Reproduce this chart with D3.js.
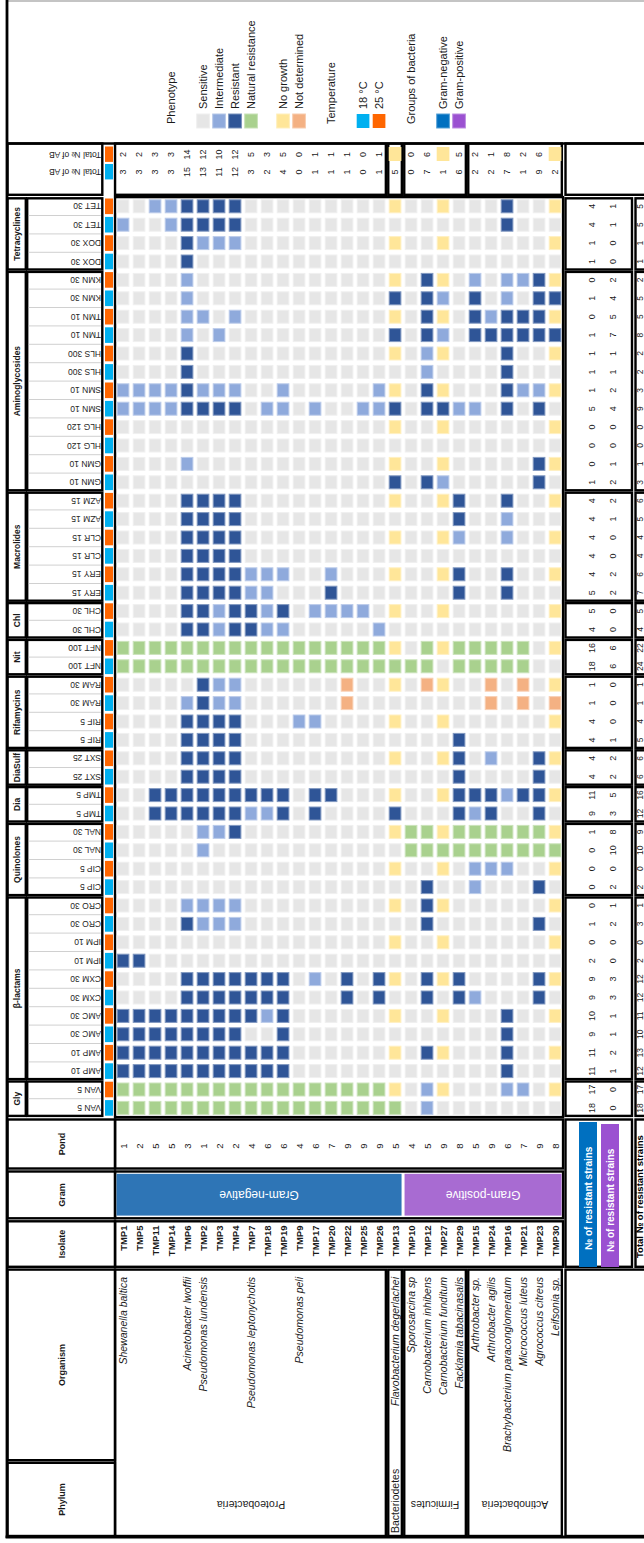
<!DOCTYPE html>
<html>
<head>
<meta charset="utf-8">
<script src="https://cdn.jsdelivr.net/npm/d3@7/dist/d3.min.js"></script>
<style>
html,body{margin:0;padding:0;background:#fff;}
svg{display:block;}
text{font-family:"Liberation Sans",Arial,sans-serif;}
</style>
</head>
<body>
<svg id="chart" width="644" height="1543"></svg>
<script>
// ---------------- DATA ----------------
const isolates = ["TMP1","TMP5","TMP11","TMP14","TMP6","TMP2","TMP3","TMP4","TMP7","TMP18","TMP19","TMP9","TMP17","TMP20","TMP22","TMP25","TMP26","TMP13","TMP10","TMP12","TMP27","TMP29","TMP15","TMP24","TMP16","TMP21","TMP23","TMP30"];
const ponds = [1,2,5,5,3,1,2,2,4,6,6,4,6,7,9,9,9,5,4,5,9,8,5,9,6,7,9,8];
const organisms = ["Shewanella baltica","","","","Acinetobacter lwoffii","Pseudomonas lundensis","","","Pseudomonas leptonychotis","","","Pseudomonas peli","","","","","","Flavobacterium degerlachei","Sporosarcina sp","Carnobacterium inhibens","Carnobacterium funditum","Facklamia tabacinasalis","Arthrobacter sp.","Arthrobacter agilis","Brachybacterium paraconglomeratum","Micrococcus luteus","Agrococcus citreus","Leifsonia sp."];
const phyla = ["Proteobacteria","Bacteriodetes","Firmicutes","Actinobacteria"];
const phylumSizes = [17,1,4,6];
const gramGroups = ["Gram-negative","Gram-positive"];
const gramSizes = [18,10];
const antibiotics = ["TET 30","DOX 30","KMN 30","TMN 10","HLS 300","SMN 10","HLG 120","GMN 10","AZM 15","CLR 15","ERY 15","CHL 30","NFT 100","RAM 30","RIF 5","SXT 25","TMP 5","NAL 30","CIP 5","CRO 30","IPM 10","CXM 30","AMC 30","AMP 10","VAN 5"];
const abClasses = ["Tetracyclines","Aminoglycosides","Macrolides","Chl","Nit","Rifamycins","DiaSulf","Dia","Quinolones","β-lactams","Gly"];
const classSizes = [2,6,3,1,1,2,1,1,2,5,1];
const temperatures = ["25 °C","18 °C"];          // row order inside each antibiotic (top, bottom)
const legendTemperatures = ["18 °C","25 °C"];    // legend order
const phenoCodes = ["S","I","R","N","G","D"];
const phenoLabels = ["Sensitive","Intermediate","Resistant","Natural resistance","No growth","Not determined"];
// one string per antibiotic/temperature row, one letter per isolate
const phenotypeRows = [
"SSIIRRR RSSSSSS SSSGSSG SSSRSSG",
"ISSIRRR RSSSSSS SSSSSSS SSSRSSS",
"SSSSRII ISSSSSS SSSGSSG SSSSSSG",
"SSSSRSS SSSSSSS SSSSSSS SSSSSSS",
"SSSSISS SSSSSSS SSSGSRG SISIIRG",
"SSSSISS SSSSSSS SSSRSRI SRSISRR",
"SSSSIIS ISSSSSS SSSGSRG SRIRRRG",
"SSSSISI SSSSSSS SSSRSRI SRRRRRR",
"SSSSRSS SSSSSSS SSSGSIG SSSRSSG",
"SSSSRSS SSSSSSS SSSSSIS SSSRSSS",
"IIIIRII ISSISSS SSIGSRG SSSRIIG",
"IIIIRRR RSIISIS SIIRSRR IISRSRS",
"SSSSSSS SSSSSSS SSSGSSG SSSSSSG",
"SSSSSSS SSSSSSS SSSSSSS SSSSSSS",
"SSSSISS SSSSSSS SSSGSSG SSSSSRG",
"SSSSSSS SSSSSSS SSSRSRI SSSSSRS",
"SSSSRRR RSSSSSS SSSGSSG RSSRSSG",
"SSSSRRR RSSSSSS SSSSSSS RSSISSS",
"SSSSRRR RSSSSSS SSSGSSG ISSISSG",
"SSSSRRR RSSSSSS SSSSSSS SSSSSSS",
"SSSSRRR RIIISSI SSSGSSG RSSRSSG",
"SSSSRRR RIISSSR SSSSSSS RSSRSSS",
"SSSSRRI RRIRSII IISGSSG SSSSSSG",
"SSSSRRI RRIISSS SSISSSS SSSSSSS",
"NNNNNNN NNNNNNN NNNGSNG NNNNNSG",
"NNNNNNN NNNNNNN NNNNNNS NNNNNSS",
"SSSSSRI ISSSSSS DSSGSDG SSDSDSG",
"SSSSIRI ISSSSSS DSSSSSS SSDSDSD",
"SSSSRRR RSSSIIS SSSGSSG SSSSSSG",
"SSSSRRR RSSSSSS SSSSSSS RSSSSSS",
"SSSSRRR RSSSSSS SSSGSSG RSISSRG",
"SSSSRRR RSSSSSS SSSSSSS RSSSSRS",
"SSRRRRR RRRRSRR SSSGSSG RRRIRRG",
"SSRRRRR RIIRSRS SSSRSSS RIRSSRS",
"SSSSSII RSSSSSS SSSGNNG NNNNNNG",
"SSSSSIS SSSSSSS SSSSNNN NNNNNNN",
"SSSSSSS SSSSSSS SSSGSSG SIIISSG",
"SSSSSSS SSSSSSS SSSSSRS SISSSRS",
"SSSSIII ISSSSSS SSSGSRG SSSSSSG",
"SSSSRII ISSSSSS SSSSSRS SSSSSRS",
"SSSSSSS SSSSSSS SSSGSSG SSSSSSG",
"RRSSSSS SSSSSSS SSSSSSS SSSSSSS",
"SSSSRRR RRRRSIS RSRGSRG RSSSSRG",
"SSSSRRR RRRRSSS RSRSSRS RISSSRS",
"RRRRRRR RRIRSSS SSSGSSG SSSRSSG",
"RRRRRRR RSSRSSS SSSSSSS SSSRSSS",
"RRRRRRR RRRRSSS SSSGSRG SSSRSSG",
"RRRRRRR RRRRSSS SSSSSSS SSSRSSS",
"NNNNNNN NNNNNNN NNNGSIG SSSIISG",
"NNNNNNN NNNNNNN NNNNSIS SSSSSSS"
];
// Total No of AB per isolate (null = no growth)
const totalAB25 = [2,2,3,3,14,12,10,12,5,3,5,0,1,1,1,0,1,null,0,6,null,5,2,1,8,2,6,null];
const totalAB18 = [3,3,3,3,15,13,11,12,3,2,4,0,1,1,1,0,1,5,0,7,1,6,2,2,7,1,9,2];
// No of resistant strains per row
const resGramNeg = [4,4,1,1,0,1,0,1,1,1,1,5,0,0,0,1,4,4,4,4,4,5,5,4,16,18,1,1,4,4,4,4,11,9,1,0,0,0,0,1,0,2,9,9,10,9,11,11,17,18];
const resGramPos = [1,1,0,0,2,4,5,7,1,1,2,4,0,0,1,2,2,1,0,0,2,2,0,0,6,6,0,0,0,1,2,2,5,3,8,10,0,2,1,2,0,0,3,3,1,1,2,1,0,0];
const resTotal = [5,5,1,1,2,5,5,8,2,2,3,9,0,0,1,3,6,5,4,4,6,7,5,4,22,24,1,1,4,5,6,6,16,12,9,10,0,2,1,3,0,2,12,12,11,10,13,12,17,18];

// ---------------- STYLE ----------------
const phenoColors = ["#e6e6e6","#8faadc","#2f5597","#a9d18e","#ffe699","#f4b183"];
const tempColors = ["#ff6600","#00b0f0"];
const gramBarColors = ["#2e75b6","#a86bd2"];
const gramLegendColors = ["#0070c0","#9b51d1"];

// ---------------- SCALES ----------------
const svg = d3.select("#chart");
const STEP_X = 16, CELL_W = 12.7, X0 = 116.7;
const x = d3.scaleBand().domain(isolates)
  .range([X0, X0 + STEP_X*(isolates.length-1) + CELL_W])
  .paddingInner(1 - CELL_W/STEP_X).paddingOuter(0);
const rowKeys = antibiotics.flatMap(a => temperatures.map(t => a + "|" + t));
const STEP_Y = 18.4, CELL_H = 14, Y0 = 199.3;
const y = d3.scaleBand().domain(rowKeys)
  .range([Y0, Y0 + STEP_Y*(rowKeys.length-1) + CELL_H])
  .paddingInner(1 - CELL_H/STEP_Y).paddingOuter(0);
const color = d3.scaleOrdinal().domain(phenoCodes).range(phenoColors);
const tColor = d3.scaleOrdinal().domain(temperatures).range(tempColors);

const gapX = (x.step()-x.bandwidth())/2, gapY = (y.step()-y.bandwidth())/2;
const cb = c => c < isolates.length ? x(isolates[c]) - gapX : x(isolates[isolates.length-1]) + x.bandwidth() + gapX;
const bnd = i => i < rowKeys.length ? y(rowKeys[i]) - gapY : y(rowKeys[rowKeys.length-1]) + y.bandwidth() + gapY;
const cx = c => x(isolates[c]) + x.bandwidth()/2;
const cy = i => y(rowKeys[i]) + y.bandwidth()/2;

const TH = 2.4;
const gLines = svg.append("g");
const gMarks = svg.append("g");
const gText = svg.append("g");
function box(x0, y0, x1, y1, sw) {
  gLines.append("rect").attr("x", x0).attr("y", y0).attr("width", x1-x0).attr("height", y1-y0)
    .attr("fill","none").attr("stroke","#000").attr("stroke-width", sw || TH);
}
function label(xx, yy, str, o) {
  o = o || {};
  const t = gText.append("text")
    .attr("transform", `translate(${xx},${yy}) rotate(${o.rot === undefined ? -90 : o.rot})`)
    .attr("text-anchor", o.anchor || "middle")
    .attr("dominant-baseline", "central")
    .attr("font-size", o.size || 9)
    .attr("fill", o.fill || "#1a1a1a")
    .text(str);
  if (o.weight) t.attr("font-weight", o.weight);
  if (o.style) t.attr("font-style", o.style);
  if (o.family) t.attr("font-family", o.family);
  return t;
}
function lighter(c, k) { return d3.interpolateRgb(c, "#ffffff")(k); }

const cum = arr => arr.reduce((a, v) => (a.push(a[a.length-1] + v), a), [0]);
const phyStarts = cum(phylumSizes);
const gramStarts = cum(gramSizes);
const classStarts = cum(classSizes.map(v => v*temperatures.length));

const FRAME_L = 7, LAB_X0 = 27.2, LAB_X1 = 102.3, STRIP_X = 105, STRIP_W = 8;
const RB_X0 = 565.5, RB_X1 = 632, TB_X0 = 635.5, FAR = 700;
const TOP_Y0 = 143.5, TOP_Y1 = 194.8;

// ---------------- LEGEND ----------------
gLines.append("line").attr("x1", FRAME_L).attr("x2", 644).attr("y1", 1).attr("y2", 1)
  .attr("stroke", "#b0b0b0").attr("stroke-width", 1.6);
const LEG_SQ_Y = 114, LEG_LAB_Y = 109, LEG_HEAD_Y = 124;
const legendPhenoCols = [5,6,7,8,10,11];
label(cx(3), LEG_HEAD_Y, "Phenotype", {anchor:"start", size:11});
phenoLabels.forEach((lab, k) => {
  const c = legendPhenoCols[k];
  gMarks.append("rect").attr("x", x(isolates[c])).attr("y", LEG_SQ_Y)
    .attr("width", x.bandwidth()).attr("height", y.bandwidth()).attr("fill", phenoColors[k])
    .attr("stroke", lighter(phenoColors[k], 0.35)).attr("stroke-width", 1);
  label(cx(c), LEG_LAB_Y, lab, {anchor:"start", size:11});
});
label(cx(13), LEG_HEAD_Y, "Temperature", {anchor:"start", size:11});
legendTemperatures.forEach((t, k) => {
  const c = 15 + k;
  gMarks.append("rect").attr("x", x(isolates[c])).attr("y", LEG_SQ_Y)
    .attr("width", x.bandwidth()).attr("height", y.bandwidth()).attr("fill", tColor(t));
  label(cx(c), LEG_LAB_Y, t, {anchor:"start", size:11});
});
label(cx(18), LEG_HEAD_Y, "Groups of bacteria", {anchor:"start", size:11});
gramGroups.forEach((g, k) => {
  const c = 20 + k;
  gMarks.append("rect").attr("x", x(isolates[c])).attr("y", LEG_SQ_Y)
    .attr("width", x.bandwidth()).attr("height", y.bandwidth()).attr("fill", gramLegendColors[k])
    .attr("stroke", lighter(gramLegendColors[k], 0.35)).attr("stroke-width", 1);
  label(cx(c), LEG_LAB_Y, g, {anchor:"start", size:11});
});

// ---------------- TOTAL No OF AB (top) ----------------
const topRowY = [154.5, 172];
box(FRAME_L + 0.5, TOP_Y0, LAB_X1, TOP_Y1);
temperatures.forEach((t, k) => {
  gMarks.append("rect").attr("x", STRIP_X).attr("y", topRowY[k] - 8).attr("width", STRIP_W)
    .attr("height", 15.4).attr("fill", tColor(t));
  label(LAB_X1 - 1.2, topRowY[k], "Total № of AB", {rot:180, anchor:"start", size:8.5});
});
phyla.forEach((p, k) => {
  const a = phyStarts[k], b = phyStarts[k+1];
  box(cb(a) + (k ? 1.2 : 0), TOP_Y0, cb(b) - 1.2, TOP_Y1);
});
box(RB_X0, TOP_Y0, FAR, TOP_Y1);
[totalAB25, totalAB18].forEach((arr, k) => {
  arr.forEach((v, c) => {
    if (v === null) {
      gMarks.append("rect").attr("x", x(isolates[c])).attr("y", topRowY[k] - 7.5)
        .attr("width", x.bandwidth()).attr("height", y.bandwidth()).attr("fill", color("G"));
    } else {
      label(cx(c), topRowY[k], v, {size:9});
    }
  });
});

// ---------------- HEATMAP ----------------
const cells = [];
phenotypeRows.forEach((s, r) => {
  s.replace(/\s+/g, "").split("").forEach((code, c) => cells.push({r, c, code}));
});
gMarks.selectAll("rect.cell").data(cells).join("rect").attr("class", "cell")
  .attr("x", d => x(isolates[d.c]) + 0.5)
  .attr("y", d => y(rowKeys[d.r]) + 0.5)
  .attr("width", x.bandwidth() - 1)
  .attr("height", y.bandwidth() - 1)
  .attr("fill", d => color(d.code))
  .attr("stroke", d => lighter(color(d.code), 0.4))
  .attr("stroke-width", 1);

box(cb(0), bnd(0), cb(isolates.length), bnd(rowKeys.length));

rowKeys.forEach((key, i) => {
  const t = key.split("|")[1];
  gMarks.append("rect").attr("x", STRIP_X).attr("y", y(key) - 0.8).attr("width", STRIP_W)
    .attr("height", y.bandwidth() + 1.6).attr("fill", tColor(t));
  label(LAB_X1 - 1.2, cy(i), key.split("|")[0], {rot:180, anchor:"start", size:8.5, fill:"#262626"});
});

abClasses.forEach((cls, k) => {
  const s = classStarts[k], e = classStarts[k+1];
  const y0 = bnd(s) + 1.2, y1 = bnd(e) - 1.2;
  box(FRAME_L + 0.5, y0, 25.8, y1);
  box(LAB_X0, y0, LAB_X1, y1);
  for (let i = s + 1; i < e; i++) {
    gLines.append("line").attr("x1", LAB_X0 + 1.5).attr("x2", LAB_X1 - 1.5)
      .attr("y1", bnd(i)).attr("y2", bnd(i)).attr("stroke", "#c4c4c4").attr("stroke-width", 0.8);
  }
  label((FRAME_L + 25.8)/2 + 0.3, (bnd(s) + bnd(e))/2, cls, {size:8.5, weight:"bold"});
  box(RB_X0, y0, RB_X1, y1);
  box(TB_X0, y0, FAR, y1);
});
rowKeys.forEach((key, i) => {
  label(591.5, cy(i), resGramNeg[i], {size:9});
  label(613, cy(i), resGramPos[i], {size:9});
  label(639.6, cy(i), resTotal[i], {size:8.5});
});

// ---------------- LOWER HEADER ----------------
const POND = [1119.5, 1168.5], GRAM = [1171.5, 1218.3], ISO = [1221.3, 1266.8], ORG = [1269.6, 1460.2], PHY = [1462.8, 1536];
[[POND,"Pond"],[GRAM,"Gram"],[ISO,"Isolate"],[ORG,"Organism"],[PHY,"Phylum"]].forEach(([r, name]) => {
  box(FRAME_L + 0.5, r[0], cb(0), r[1]);
  label(61.5, (r[0] + r[1])/2, name, {size:9, weight:"bold"});
});
box(cb(0), POND[0], cb(isolates.length), POND[1]);
box(cb(0), GRAM[0], cb(isolates.length), GRAM[1]);
box(cb(0), ISO[0], cb(isolates.length), ISO[1]);
ponds.forEach((p, c) => label(cx(c), 1146, p, {size:9.5}));
gramGroups.forEach((g, k) => {
  const a = gramStarts[k], b = gramStarts[k+1];
  const x0 = cb(a) + 1.5, x1 = cb(b) - 1.5;
  gMarks.append("rect").attr("x", x0).attr("y", 1173.8).attr("width", x1 - x0).attr("height", 41.8)
    .attr("fill", gramBarColors[k]);
  label((x0 + x1)/2, 1195, g, {rot:180, size:12, fill:"#fff", family:"DejaVu Sans, sans-serif"});
});
isolates.forEach((iso, c) => label(cx(c), 1225.5, iso, {anchor:"end", size:9.5, weight:"bold"}));
phyla.forEach((p, k) => {
  const a = phyStarts[k], b = phyStarts[k+1];
  box(cb(a) + (k ? 1.2 : 0), ORG[0], cb(b) - 1.2, PHY[1]);
  if (phylumSizes[k] > 1) {
    label((cb(a) + cb(b))/2, 1505, p, {rot:180, size:10.5});
  } else {
    label((cb(a) + cb(b))/2, 1533, p, {anchor:"start", size:10.5});
  }
});
organisms.forEach((o, c) => { if (o) label(cx(c), 1277, o, {anchor:"end", size:10.5, style:"italic"}); });

box(RB_X0, POND[0], RB_X1, ISO[1]);
box(TB_X0, POND[0], FAR, ISO[1]);
box(RB_X0, ORG[0], FAR, PHY[1]);
gMarks.append("rect").attr("x", 579).attr("y", 1122).attr("width", 18).attr("height", 145).attr("fill", gramLegendColors[0]);
gMarks.append("rect").attr("x", 601).attr("y", 1124).attr("width", 18).attr("height", 143).attr("fill", gramLegendColors[1]);
label(588, 1250, "№ of resistant strains", {anchor:"start", size:10, weight:"bold", fill:"#fff"});
label(610, 1252, "№ of resistant strains", {anchor:"start", size:10, weight:"bold", fill:"#fff"});
label(639.2, 1258, "Total № of resistant strains", {anchor:"start", size:9.5, weight:"bold", fill:"#000"});

// outer frame
gLines.append("line").attr("x1", FRAME_L).attr("x2", FRAME_L).attr("y1", 0).attr("y2", 1538)
  .attr("stroke", "#000").attr("stroke-width", 2.8);
gLines.append("line").attr("x1", FRAME_L - 1.4).attr("x2", 644).attr("y1", 1537).attr("y2", 1537)
  .attr("stroke", "#000").attr("stroke-width", 2.8);
gLines.append("line").attr("x1", FRAME_L).attr("x2", 644).attr("y1", TOP_Y0).attr("y2", TOP_Y0)
  .attr("stroke", "#000").attr("stroke-width", 2.6);
</script>
</body>
</html>
